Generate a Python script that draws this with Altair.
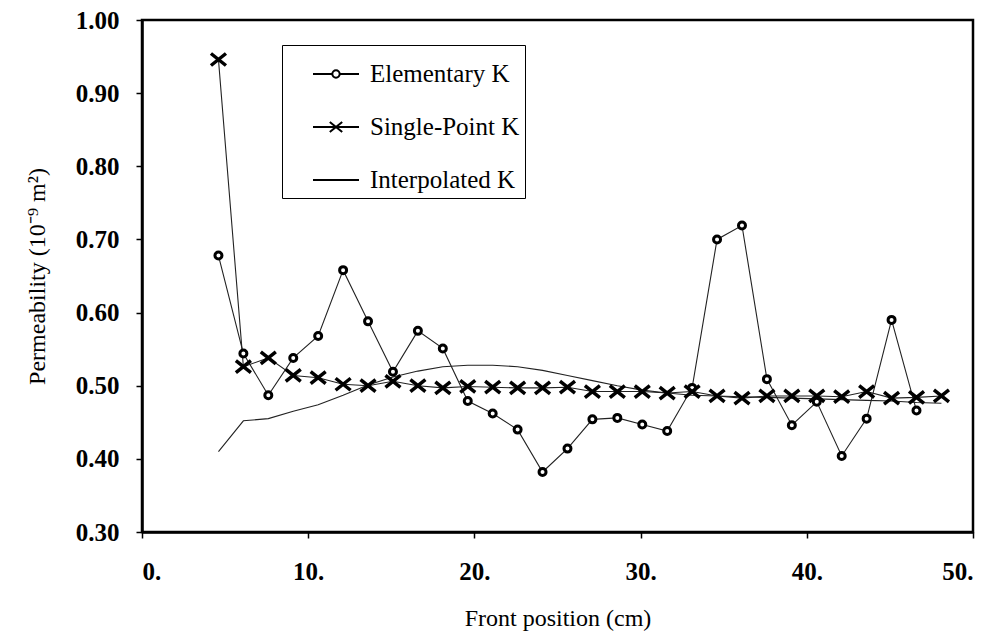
import altair as alt
import pandas as pd

# ---- data ----
x_positions = [4.6, 6.1, 7.6, 9.1, 10.6, 12.1, 13.6, 15.1, 16.6, 18.1,
               19.6, 21.1, 22.6, 24.1, 25.6, 27.1, 28.6, 30.1, 31.6, 33.1,
               34.6, 36.1, 37.6, 39.1, 40.6, 42.1, 43.6, 45.1, 46.6, 48.1]

elementary_k = [0.678, 0.544, 0.487, 0.538, 0.568, 0.658, 0.588, 0.519, 0.575, 0.551,
                0.479, 0.462, 0.440, 0.382, 0.414, 0.454, 0.456, 0.447, 0.438, 0.497,
                0.700, 0.719, 0.509, 0.446, 0.478, 0.404, 0.455, 0.590, 0.466]

single_point_k = [0.946, 0.526, 0.538, 0.514, 0.511, 0.502, 0.500, 0.506, 0.500, 0.497,
                  0.499, 0.498, 0.497, 0.497, 0.498, 0.492, 0.492, 0.492, 0.490, 0.492,
                  0.486, 0.483, 0.486, 0.486, 0.486, 0.485, 0.492, 0.483, 0.484, 0.486]

interpolated_k = [0.410, 0.452, 0.455, 0.465, 0.474, 0.487, 0.501, 0.512, 0.520, 0.526,
                  0.528, 0.528, 0.526, 0.521, 0.514, 0.507, 0.500, 0.494, 0.490, 0.487,
                  0.486, 0.485, 0.484, 0.483, 0.482, 0.481, 0.480, 0.479, 0.477, 0.476]

series_names = ["Elementary K", "Single-Point K", "Interpolated K"]
x_ticks = [0, 10, 20, 30, 40, 50]
y_ticks = [0.3, 0.4, 0.5, 0.6, 0.7, 0.8, 0.9, 1.0]

rows = []
for name, vals in zip(series_names, [elementary_k, single_point_k, interpolated_k]):
    for x, v in zip(x_positions, vals):
        rows.append({"x": x, "k": v, "series": name})
df = pd.DataFrame(rows)

FONT = "Liberation Serif"

xscale = alt.Scale(domain=[0, 50], nice=False, zero=False)
yscale = alt.Scale(domain=[0.3, 1.0], nice=False, zero=False)

x_enc = alt.X("x:Q", scale=xscale,
              axis=alt.Axis(values=x_ticks, labelExpr="datum.value + '.'",
                            title="Front position (cm)", grid=False,
                            labelFont=FONT, labelFontSize=25, labelFontWeight="bold",
                            labelColor="black", labelPadding=21,
                            titleFont=FONT, titleFontSize=24, titleFontWeight="normal",
                            titleColor="black", titlePadding=22,
                            domainColor="black", domainWidth=2.5,
                            tickColor="black", tickSize=6, tickWidth=1.5))
y_enc = alt.Y("k:Q", scale=yscale,
              axis=alt.Axis(values=y_ticks, format=".2f",
                            title="Permeability (10⁻⁹ m²)", grid=False,
                            labelFont=FONT, labelFontSize=25, labelFontWeight="bold",
                            labelColor="black", labelPadding=17,
                            titleFont=FONT, titleFontSize=24, titleFontWeight="normal",
                            titleColor="black", titlePadding=26,
                            domainColor="black", domainWidth=2.5,
                            tickColor="black", tickSize=6, tickWidth=1.5))

lines = alt.Chart(df).mark_line(color="#222222", strokeWidth=1.1).encode(
    x=x_enc, y=y_enc, detail="series:N", order="x:Q")

circles = alt.Chart(df).transform_filter(
    "datum.series == 'Elementary K'").mark_point(
    shape="circle", size=49, fill="white", fillOpacity=1, stroke="black",
    strokeWidth=3, opacity=1).encode(x="x:Q", y="k:Q")

crosses = alt.Chart(df).transform_filter(
    "datum.series == 'Single-Point K'").mark_point(
    shape="M -1 -0.8 L 1 0.8 M -1 0.8 L 1 -0.8", size=225, filled=False,
    stroke="black", strokeWidth=3.5, opacity=1).encode(x="x:Q", y="k:Q")

legend_paths = [
    "M -1 0 L -0.16 0 M 0.16 0 L 1 0 M -0.16 0 A 0.16 0.16 0 1 0 0.16 0 A 0.16 0.16 0 1 0 -0.16 0",
    "M -1 0 L 1 0 M -0.27 -0.22 L 0.27 0.22 M -0.27 0.22 L 0.27 -0.22",
    "M -1 0 L 1 0",
]

legend_layer = alt.Chart(df).transform_filter("false").mark_point(
    filled=False, stroke="black", strokeWidth=2, opacity=1).encode(
    x="x:Q", y="k:Q",
    shape=alt.Shape("series:N",
                    scale=alt.Scale(domain=series_names, range=legend_paths),
                    legend=alt.Legend(orient="none", legendX=140, legendY=25,
                                      title=None, strokeColor="black",
                                      fillColor="white", padding=5,
                                      symbolOffset=25,
                                      symbolSize=2116, symbolStrokeWidth=2,
                                      symbolStrokeColor="black",
                                      symbolFillColor="transparent",
                                      labelFont=FONT, labelFontSize=25,
                                      labelColor="black", labelOffset=10,
                                      labelExpr="datum.label + '\u00a0\u00a0\u00a0'",
                                      rowPadding=16)))

chart = alt.layer(lines, circles, crosses, legend_layer).properties(
    width=831, height=512,
    autosize=alt.AutoSizeParams(type="none"),
    padding={"left": 142, "top": 20, "right": 23, "bottom": 108},
    background="white",
).configure(font=FONT).configure_view(stroke="black", strokeWidth=2.5)

chart.save("out.html", embed_options={"renderer": "svg", "actions": False})
